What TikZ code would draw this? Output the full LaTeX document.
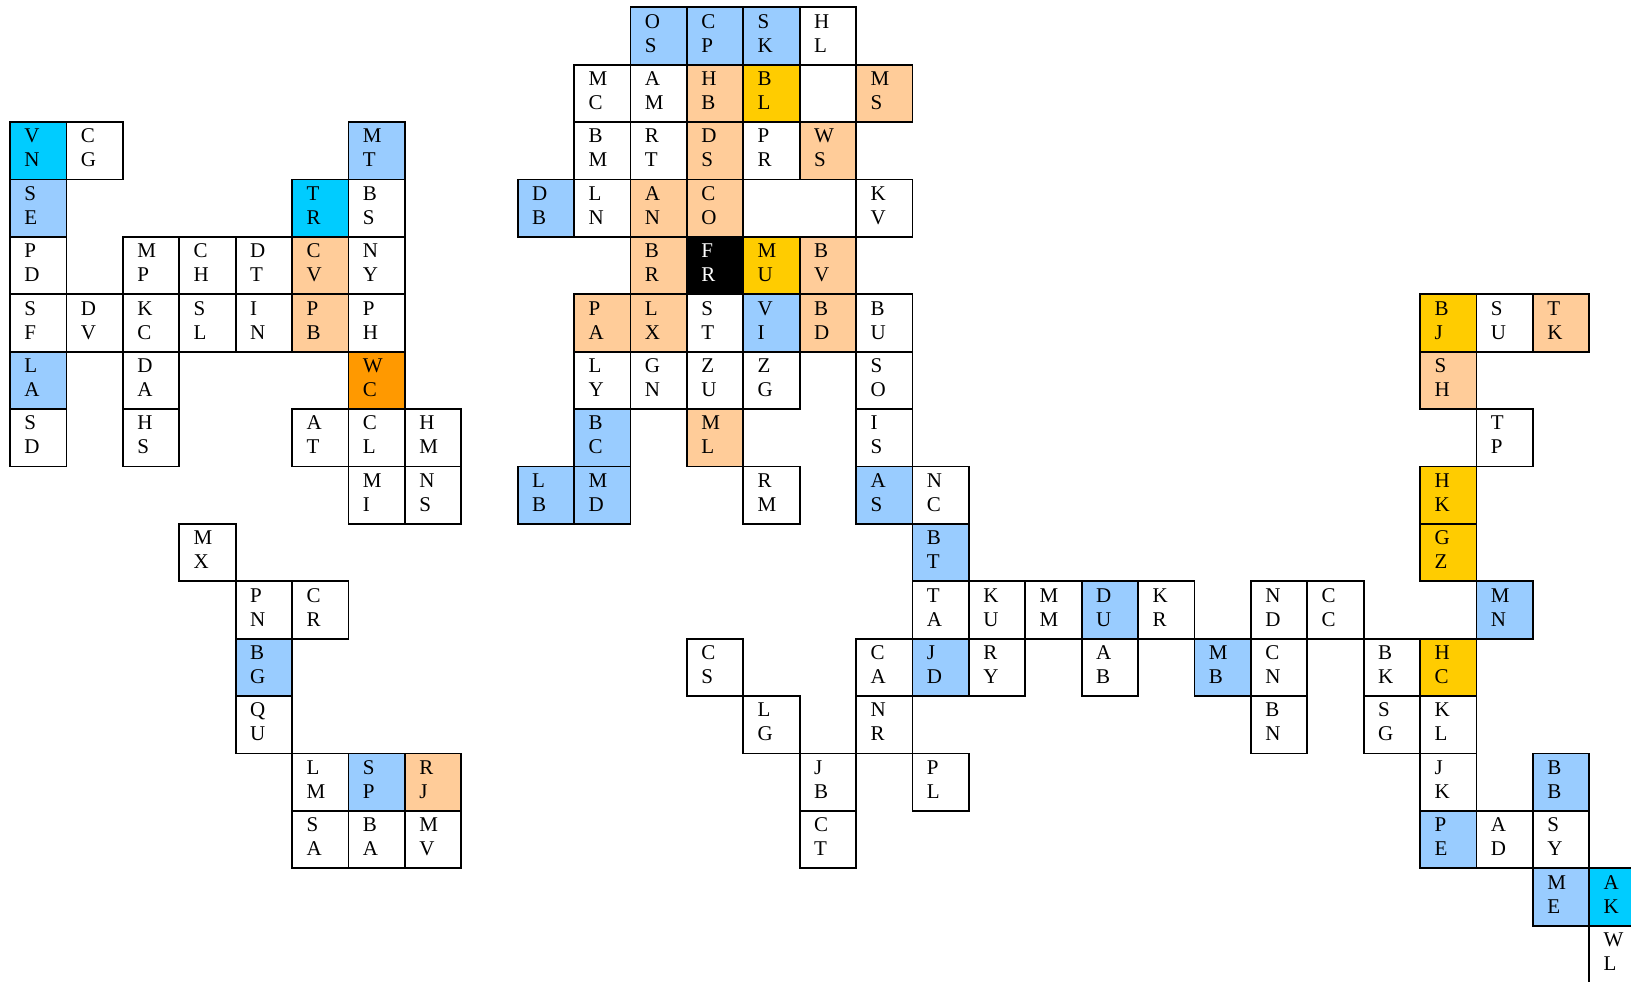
\documentclass[tikz,border=0pt]{standalone}
\usepackage{fontspec}
\setmainfont{Liberation Serif}
\definecolor{cCY}{HTML}{00CCFF}
\definecolor{cLB}{HTML}{99CCFF}
\definecolor{cPE}{HTML}{FFCC99}
\definecolor{cGO}{HTML}{FFCC00}
\definecolor{cOR}{HTML}{FF9900}
\definecolor{cW}{HTML}{FFFFFF}
\definecolor{cBK}{HTML}{000000}
\begin{document}
\begin{tikzpicture}[x=0.5pt,y=-0.5pt,
  cellbox/.style={draw=black, line width=0.9pt, minimum width=28.2pt, minimum height=28.7pt,
    inner sep=0pt, outer sep=0pt, anchor=north west, fill=#1},
  letter/.style={inner sep=0pt, outer sep=0pt, anchor=base west,
    font=\fontsize{10.5}{12}\selectfont, text=#1},
  letter/.default=black]
\useasboundingbox (0,0) rectangle (1631,981);
\foreach \colI/\rowI/\tA/\tB/\fc/\tc in {
  0/2/V/N/cCY/black, 1/2/C/G/cW/black, 6/2/M/T/cLB/black,
  0/3/S/E/cLB/black, 5/3/T/R/cCY/black, 6/3/B/S/cW/black,
  0/4/P/D/cW/black, 2/4/M/P/cW/black, 3/4/C/H/cW/black, 4/4/D/T/cW/black, 5/4/C/V/cPE/black, 6/4/N/Y/cW/black,
  0/5/S/F/cW/black, 1/5/D/V/cW/black, 2/5/K/C/cW/black, 3/5/S/L/cW/black, 4/5/I/N/cW/black, 5/5/P/B/cPE/black, 6/5/P/H/cW/black,
  0/6/L/A/cLB/black, 2/6/D/A/cW/black, 6/6/W/C/cOR/black,
  0/7/S/D/cW/black, 2/7/H/S/cW/black, 5/7/A/T/cW/black, 6/7/C/L/cW/black, 7/7/H/M/cW/black,
  6/8/M/I/cW/black, 7/8/N/S/cW/black,
  3/9/M/X/cW/black, 4/10/P/N/cW/black, 5/10/C/R/cW/black, 4/11/B/G/cLB/black, 4/12/Q/U/cW/black,
  5/13/L/M/cW/black, 6/13/S/P/cLB/black, 7/13/R/J/cPE/black,
  5/14/S/A/cW/black, 6/14/B/A/cW/black, 7/14/M/V/cW/black,
  11/0/O/S/cLB/black, 12/0/C/P/cLB/black, 13/0/S/K/cLB/black, 14/0/H/L/cW/black,
  10/1/M/C/cW/black, 11/1/A/M/cW/black, 12/1/H/B/cPE/black, 13/1/B/L/cGO/black, 15/1/M/S/cPE/black,
  10/2/B/M/cW/black, 11/2/R/T/cW/black, 12/2/D/S/cPE/black, 13/2/P/R/cW/black, 14/2/W/S/cPE/black,
  9/3/D/B/cLB/black, 10/3/L/N/cW/black, 11/3/A/N/cPE/black, 12/3/C/O/cPE/black, 15/3/K/V/cW/black,
  11/4/B/R/cPE/black, 12/4/F/R/cBK/white, 13/4/M/U/cGO/black, 14/4/B/V/cPE/black,
  10/5/P/A/cPE/black, 11/5/L/X/cPE/black, 12/5/S/T/cW/black, 13/5/V/I/cLB/black, 14/5/B/D/cPE/black, 15/5/B/U/cW/black,
  10/6/L/Y/cW/black, 11/6/G/N/cW/black, 12/6/Z/U/cW/black, 13/6/Z/G/cW/black, 15/6/S/O/cW/black,
  10/7/B/C/cLB/black, 12/7/M/L/cPE/black, 15/7/I/S/cW/black,
  9/8/L/B/cLB/black, 10/8/M/D/cLB/black, 13/8/R/M/cW/black, 15/8/A/S/cLB/black, 16/8/N/C/cW/black,
  16/9/B/T/cLB/black,
  16/10/T/A/cW/black, 17/10/K/U/cW/black, 18/10/M/M/cW/black, 19/10/D/U/cLB/black, 20/10/K/R/cW/black,
  22/10/N/D/cW/black, 23/10/C/C/cW/black, 26/10/M/N/cLB/black,
  12/11/C/S/cW/black, 15/11/C/A/cW/black, 16/11/J/D/cLB/black, 17/11/R/Y/cW/black, 19/11/A/B/cW/black,
  21/11/M/B/cLB/black, 22/11/C/N/cW/black, 24/11/B/K/cW/black, 25/11/H/C/cGO/black,
  13/12/L/G/cW/black, 15/12/N/R/cW/black, 22/12/B/N/cW/black, 24/12/S/G/cW/black, 25/12/K/L/cW/black,
  14/13/J/B/cW/black, 16/13/P/L/cW/black, 25/13/J/K/cW/black, 27/13/B/B/cLB/black,
  14/14/C/T/cW/black, 25/14/P/E/cLB/black, 26/14/A/D/cW/black, 27/14/S/Y/cW/black,
  27/15/M/E/cLB/black, 28/15/A/K/cCY/black,
  28/16/W/L/cW/black,
  25/5/B/J/cGO/black, 26/5/S/U/cW/black, 27/5/T/K/cPE/black,
  25/6/S/H/cPE/black, 26/7/T/P/cW/black, 25/8/H/K/cGO/black, 25/9/G/Z/cGO/black}{
  \pgfmathsetmacro\xx{10+56.4*\colI}
  \pgfmathsetmacro\yy{7.3+57.4*\rowI}
  \node[cellbox=\fc] (k\colI-\rowI) at (\xx,\yy) {};
  \node[letter=\tc] (k\colI-\rowI-a) at ([xshift=7.25pt,yshift=-10.4pt]k\colI-\rowI.north west) {\tA};
  \node[letter=\tc] (k\colI-\rowI-b) at ([xshift=7.25pt,yshift=-22.4pt]k\colI-\rowI.north west) {\tB};
}
\end{tikzpicture}
\end{document}
